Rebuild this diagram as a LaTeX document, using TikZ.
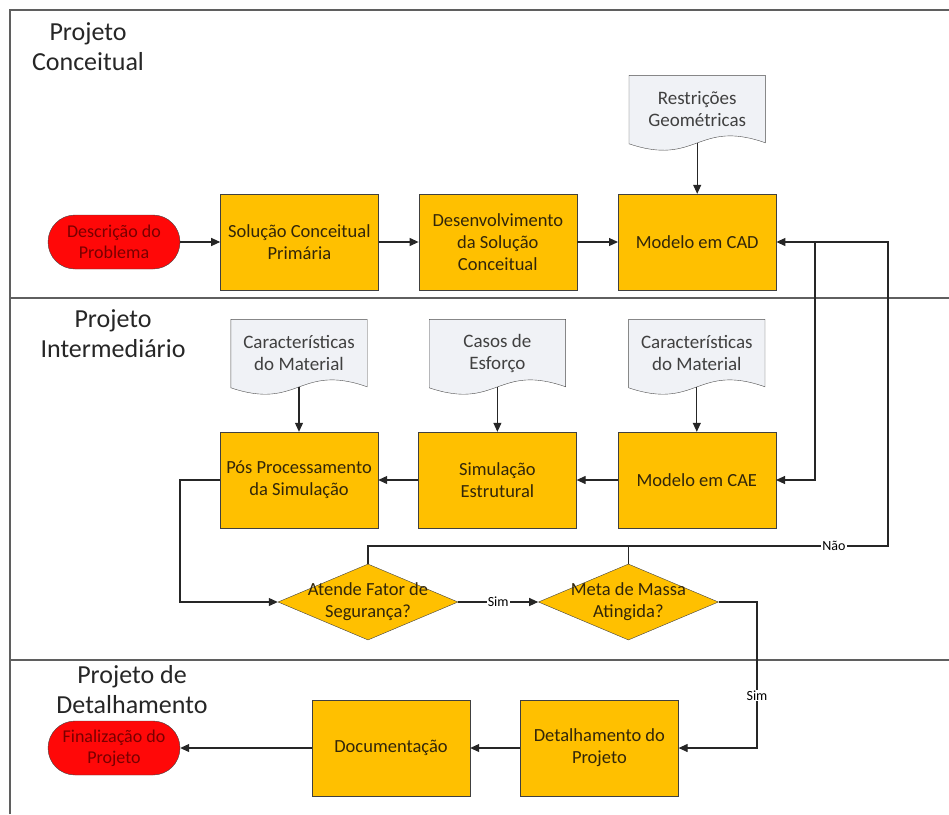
\documentclass[tikz,border=0pt]{standalone}
\usepackage{fontspec}
\setmainfont{Carlito}
\usetikzlibrary{arrows.meta,positioning,calc,shapes.geometric,backgrounds}
\definecolor{boxgold}{RGB}{255,192,0}
\definecolor{boxtext}{RGB}{50,38,10}
\definecolor{termred}{RGB}{255,8,8}
\definecolor{termtext}{RGB}{120,0,0}
\definecolor{docfill}{RGB}{240,242,246}
\definecolor{lanegray}{RGB}{95,95,95}

\begin{document}
\begin{tikzpicture}[x=1pt, y=-1pt, >={Triangle[length=9pt,width=8pt]}, node distance=40pt,
    procbox/.style={draw=black!75, fill=boxgold, text=boxtext, minimum width=158pt, minimum height=96pt, align=center, font=\fontsize{18.5}{22}\selectfont},
    termbox/.style={draw=black!75, fill=termred, text=termtext, rounded corners=27pt, minimum width=132pt, minimum height=54pt, align=center, font=\fontsize{18}{21}\selectfont},
    decbox/.style={diamond, draw=black!75, fill=boxgold, minimum width=180pt, minimum height=76pt, inner sep=0pt},
    dectext/.style={align=center, text=boxtext, font=\fontsize{18.5}{22}\selectfont},
    docbox/.style={minimum width=136pt, minimum height=67pt, align=center, text=black!75, font=\fontsize{19}{22}\selectfont},
    docline/.style={draw=black!70, fill=docfill},
    lanetitle/.style={align=center, font=\fontsize{26}{30}\selectfont, text=black!85},
    flow/.style={->, line width=1.1pt, draw=black!85},
    edgelabel/.style={fill=white, inner sep=1pt, font=\fontsize{14}{16}\selectfont}]
  \useasboundingbox (0,0) rectangle (949,814);

  % raias
  \draw[lanegray, line width=1.8pt] (10,814) -- (10,10) -- (949,10);
  \draw[lanegray, line width=1.8pt] (10,298) -- (949,298);
  \draw[lanegray, line width=1.8pt] (10,660) -- (949,660);
  \node[lanetitle] (laneA) at (88,47) {Projeto\\Conceitual};
  \node[lanetitle] (laneB) at (113,334) {Projeto\\Intermediário};
  \node[lanetitle] (laneC) at (132,690) {Projeto de\\Detalhamento};

  % projeto conceitual
  \node[termbox] (desc) at (114,242) {Descrição do\\Problema};
  \node[procbox, right=of desc] (sol) {Solução Conceitual\\Primária};
  \node[procbox, right=of sol] (dev) {Desenvolvimento\\da Solução\\Conceitual};
  \node[procbox, right=41pt of dev] (cad) {Modelo em CAD};
  \node[docbox, above=51pt of cad] (restr) {Restrições\\Geométricas};

  % projeto intermediario
  \node[procbox] (posp) at (299,480) {Pós Processamento\\da Simulação};
  \node[procbox, right=of posp] (simu) {Simulação\\Estrutural};
  \node[procbox, right=41pt of simu] (cae) {Modelo em CAE};
  \node[docbox, above=45pt of posp] (matA) {Características\\do Material};
  \node[docbox, above=45pt of simu] (casos) {Casos de\\Esforço};
  \node[docbox, above=45pt of cae] (matB) {Características\\do Material};
  \node[decbox] (atende) at (368,602) {};
  \node[dectext] (atendeT) at (atende) {Atende Fator de\\Segurança?};
  \node[decbox, right=80pt of atende] (meta) {};
  \node[dectext] (metaT) at (meta) {Meta de Massa\\Atingida?};

  % projeto de detalhamento
  \node[termbox] (fin) at (114,748) {Finalização do\\Projeto};
  \node[procbox] (docu) at (391,748) {Documentação};
  \node[procbox, right=50pt of docu] (detal) {Detalhamento do\\Projeto};

  % documentos
  \begin{scope}[on background layer]
    \foreach \d in {restr,matA,casos,matB}
      \draw[docline] (\d.north west) -- (\d.north east) -- (\d.south east)
        .. controls ($(\d.south)+(0,-24)$) and ($(\d.south)+(0,24)$) .. ($(\d.south west)+(0,1)$) -- cycle;
  \end{scope}

  % ligacoes
  \coordinate (loopL) at (180,480);
  \coordinate (retA) at (888,546);
  \coordinate (split) at (815,241);
  \coordinate (simR) at (757,602);
  \draw[flow] (desc) -- (sol);
  \draw[flow] (sol) -- (dev);
  \draw[flow] (dev) -- (cad);
  \draw[flow] (restr) -- (cad);
  \draw[flow] (matA) -- (posp);
  \draw[flow] (casos) -- (simu);
  \draw[flow] (matB) -- (cae);
  \draw[flow] (cae) -- (simu);
  \draw[flow] (simu) -- (posp);
  \draw[flow] (posp.west) -- (loopL) |- (atende.west);
  \draw[flow] (atende.east) -- node[edgelabel] (simA) {Sim} (meta.west);
  \draw[flow] (atende.north) |- (retA) |- (cad.east);
  \draw[line width=1.1pt, black!85] (meta.north) -- (meta.north |- retA);
  \draw[flow] (split) |- (cae.east);
  \node[edgelabel] (nao) at (834,546) {Não};
  \draw[flow] (meta.east) -- (simR) |- node[edgelabel, pos=0.32] (simB) {Sim} (detal.east);
  \draw[flow] (detal) -- (docu);
  \draw[flow] (docu) -- (fin);
\end{tikzpicture}
\end{document}
